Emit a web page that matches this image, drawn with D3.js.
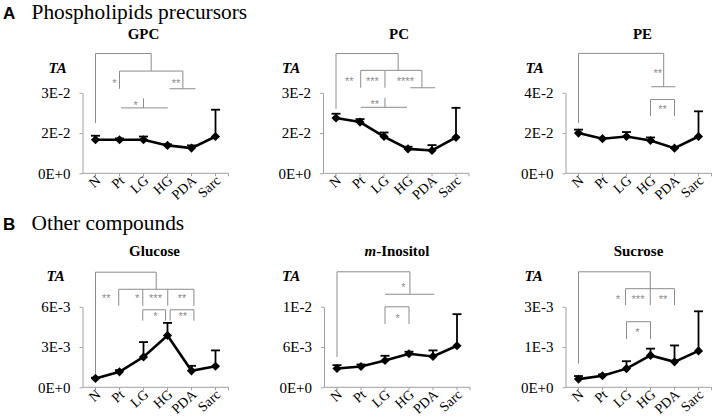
<!DOCTYPE html>
<html>
<head>
<meta charset="utf-8">
<script src="https://cdn.jsdelivr.net/npm/d3@7"></script>
<style>
  body { margin: 0; background: #fff; }
  svg text { font-family: 'Liberation Serif', 'Times New Roman', Tinos, 'DejaVu Serif', serif; }
  svg text.sans { font-family: 'Liberation Sans', Arial, Arimo, sans-serif; }
  .sig { fill: none; stroke: #8c8c8c; stroke-width: 1; }
  svg text.star { font-family: 'Liberation Sans', Arial, sans-serif; font-size: 11px; fill: #8c8c8c; }
</style>
</head>
<body>
<svg id="fig" width="713" height="417"></svg>
<script>
// groups on the x axis
const groups = ["N", "Pt", "LG", "HG", "PDA", "Sarc"];

// mean TA and top of the error bar
const gpcMean  = [0.0125, 0.0125, 0.0125, 0.0104, 0.0094, 0.0137];
const gpcUpper = [0.0140, 0.0130, 0.0137, 0.0108, 0.0104, 0.0237];
const pcMean   = [0.0206, 0.0191, 0.0137, 0.0091, 0.0085, 0.0134];
const pcUpper  = [0.0222, 0.0202, 0.0152, 0.0099, 0.0105, 0.0244];
const peMean   = [0.0200, 0.0172, 0.0183, 0.0163, 0.0125, 0.0183];
const peUpper  = [0.0217, 0.0176, 0.0205, 0.0178, 0.0128, 0.0308];
const gluMean  = [0.00066, 0.00115, 0.00226, 0.00386, 0.00123, 0.00157];
const gluUpper = [0.00072, 0.00128, 0.00337, 0.00480, 0.00160, 0.00275];
const inoMean  = [0.0028, 0.0031, 0.0040, 0.0050, 0.0046, 0.0062];
const inoUpper = [0.0033, 0.0034, 0.0047, 0.0053, 0.0055, 0.0109];
const sucMean  = [0.000255, 0.00036, 0.00058, 0.00099, 0.00079, 0.00113];
const sucUpper = [0.00035, 0.00040, 0.00081, 0.00120, 0.00130, 0.00236];

// y axis: max and tick labels (Excel rounds the middle tick)
const gpcTicks = ["0E+0", "2E-2", "3E-2"];
const pcTicks  = ["0E+0", "2E-2", "3E-2"];
const peTicks  = ["0E+0", "2E-2", "4E-2"];
const gluTicks = ["0E+0", "3E-3", "6E-3"];
const inoTicks = ["0E+0", "6E-3", "1E-2"];
const sucTicks = ["0E+0", "1E-3", "3E-3"];

// significance brackets: polylines of [group index, multiple of axis max]
const gpcBrackets = [
  [[0, 0.625], [0, 1.4875], [2.32, 1.4875], [2.32, 1.27]],
  [[1, 1.05], [1, 1.27], [3.64, 1.27], [3.64, 1.05]],
  [[3.08, 1.05], [4.17, 1.05]],
  [[1.07, 0.8125], [3.01, 0.8125]],
  [[2, 0.8125], [2, 0.93]]
];
const gpcStars = [[0.79, 1.15, "*"], [3.36, 1.15, "**"], [1.67, 0.88, "*"]];

const pcBrackets = [
  [[0, 0.8], [0, 1.4875], [2.59, 1.4875], [2.59, 1.279]],
  [[1.03, 1.0625], [1.03, 1.279], [3.58, 1.279], [3.58, 1.0625]],
  [[2.04, 1.279], [2.04, 1.0625]],
  [[3.1, 1.0625], [4.13, 1.0625]],
  [[1.03, 0.82], [2.96, 0.82]],
  [[2.04, 0.82], [2.04, 0.9375]]
];
const pcStars = [[0.55, 1.175, "**"], [1.52, 1.175, "***"], [2.89, 1.175, "****"], [1.62, 0.8875, "**"]];

const peBrackets = [
  [[0, 0.625], [0, 1.49], [3.55, 1.49], [3.55, 1.075]],
  [[3.03, 1.075], [4.03, 1.075]],
  [[3, 0.71], [3, 0.916], [4, 0.916], [4, 0.71]]
];
const peStars = [[3.3, 1.28, "**"], [3.5, 0.825, "**"]];

const gluBrackets = [
  [[0, 0.17], [0, 1.43], [2.53, 1.43], [2.53, 1.218]],
  [[0.97, 1.012], [0.97, 1.218], [4.1, 1.218], [4.1, 1.012]],
  [[1.97, 1.218], [1.97, 1.012]],
  [[3.01, 1.218], [3.01, 1.012]],
  [[1.97, 0.828], [1.97, 0.963], [2.92, 0.963], [2.92, 0.828]],
  [[3.11, 0.828], [3.11, 0.963], [4.1, 0.963], [4.1, 0.828]]
];
const gluStars = [[0.45, 1.144, "**"], [1.74, 1.144, "*"], [2.5, 1.144, "***"], [3.61, 1.144, "**"],
                  [2.5, 0.91, "*"], [3.64, 0.91, "**"]];

const inoBrackets = [
  [[0, 0.376], [0, 1.435], [3.04, 1.435], [3.04, 1.156]],
  [[2, 1.156], [4.06, 1.156]],
  [[2, 0.787], [2, 1.0], [3, 1.0], [3, 0.787]]
];
const inoStars = [[2.77, 1.27, "*"], [2.53, 0.89, "*"]];

const sucBrackets = [
  [[0, 0.295], [0, 1.435], [2.99, 1.435], [2.99, 1.02]],
  [[1.96, 1.02], [1.96, 1.225], [4, 1.225], [4, 1.02]],
  [[2, 0.6], [2, 0.815], [3, 0.815], [3, 0.6]]
];
const sucStars = [[1.64, 1.127, "*"], [2.48, 1.127, "***"], [3.52, 1.127, "**"], [2.45, 0.717, "*"]];

const panels = [
  {title: "GPC", mean: gpcMean, upper: gpcUpper, max: 0.03, ticks: gpcTicks, brackets: gpcBrackets, stars: gpcStars},
  {title: "PC", mean: pcMean, upper: pcUpper, max: 0.03, ticks: pcTicks, brackets: pcBrackets, stars: pcStars},
  {title: "PE", mean: peMean, upper: peUpper, max: 0.04, ticks: peTicks, brackets: peBrackets, stars: peStars},
  {title: "Glucose", mean: gluMean, upper: gluUpper, max: 0.006, ticks: gluTicks, brackets: gluBrackets, stars: gluStars},
  {title: "m-Inositol", mean: inoMean, upper: inoUpper, max: 0.012, ticks: inoTicks, brackets: inoBrackets, stars: inoStars},
  {title: "Sucrose", mean: sucMean, upper: sucUpper, max: 0.0025, ticks: sucTicks, brackets: sucBrackets, stars: sucStars}
];

// where each small chart sits: y-axis x, baseline y, label offsets
const layout = [
  {x: 82.5, y: 173.3, titleDx: -12, taDx: -34},
  {x: 323, y: 173.3, titleDx: 3, taDx: -41},
  {x: 565.5, y: 173.3, titleDx: 4, taDx: -40},
  {x: 82.5, y: 387.3, titleDx: -1, taDx: -36},
  {x: 324, y: 387.3, titleDx: 0, taDx: -42},
  {x: 565.5, y: 387.3, titleDx: 0, taDx: -41}
];

const svg = d3.select("#fig");
const axisH = 80.5, step = 24;
const axisColor = "#a0a0a0";

// section headings
function heading(letter, label, y) {
  svg.append("text").attr("class", "sans").attr("x", 3).attr("y", y)
    .style("font-weight", "bold").style("font-size", "17px").text(letter);
  svg.append("text").attr("x", 31.5).attr("y", y)
    .style("font-size", "21.4px").text(label);
}
heading("A", "Phospholipids precursors", 19.2);
heading("B", "Other compounds", 229.5);

panels.forEach(function (p, k) {
  let L = layout[k];
  let g = svg.append("g");

  let x = d3.scalePoint().domain(groups)
    .range([L.x + 13, L.x + 13 + step * (groups.length - 1)]);
  let xi = function (i) { return x(groups[0]) + i * step; };
  let y = d3.scaleLinear().domain([0, p.max]).range([L.y, L.y - axisH]);

  // y axis
  let yAxis = d3.axisLeft(y).tickValues([0, p.max / 2, p.max])
    .tickSize(3).tickSizeOuter(0)
    .tickFormat(function (d, i) { return p.ticks[i]; });
  let ya = g.append("g")
    .attr("transform", "translate(" + L.x + ",0)").call(yAxis);
  ya.attr("font-family", null).attr("font-size", null);
  ya.select(".domain").attr("stroke", axisColor);
  ya.selectAll(".tick line").attr("stroke", axisColor);
  ya.selectAll("text").attr("x", -12)
    .style("font-size", "15px").attr("fill", "#000");

  // x axis with ticks under the points and at the end
  let xEnd = L.x + step * groups.length + 2;
  g.append("line")
    .attr("x1", L.x).attr("x2", xEnd).attr("y1", L.y).attr("y2", L.y)
    .attr("stroke", axisColor);
  g.selectAll(".xt").data(groups.map(function (d) { return x(d); }).concat([xEnd]))
    .enter().append("line")
    .attr("x1", function (d) { return d; }).attr("x2", function (d) { return d; })
    .attr("y1", L.y).attr("y2", L.y + 3).attr("stroke", axisColor);
  g.selectAll(".xl").data(groups).enter().append("text")
    .attr("text-anchor", "end")
    .attr("transform", function (d) { return "translate(" + (x(d) + 6) + "," + (L.y + 8.5) + ") rotate(-42)"; })
    .style("font-size", "14px")
    .text(function (d) { return d; });

  // title and TA label
  let title = g.append("text").attr("x", (x(groups[0]) + x(groups[5])) / 2 + L.titleDx)
    .attr("y", k < 3 ? 38.5 : 256).attr("text-anchor", "middle")
    .style("font-weight", "bold").style("font-size", "15px");
  if (p.title.indexOf("m-") === 0) {
    title.append("tspan").style("font-style", "italic").text("m");
    title.append("tspan").text(p.title.slice(1));
  } else {
    title.text(p.title);
  }
  g.append("text").attr("x", L.x + L.taDx).attr("y", k < 3 ? 72.5 : 281)
    .style("font-weight", "bold").style("font-style", "italic").style("font-size", "15px")
    .text("TA");

  // significance brackets
  let bl = d3.line()
    .x(function (d) { return xi(d[0]); })
    .y(function (d) { return y(d[1] * p.max); });
  g.selectAll(".sig").data(p.brackets).enter().append("path")
    .attr("class", "sig").attr("d", bl);
  g.selectAll(".star").data(p.stars).enter().append("text")
    .attr("class", "star").attr("text-anchor", "middle")
    .attr("x", function (d) { return xi(d[0]); })
    .attr("y", function (d) { return y(d[1] * p.max) + 6.3; })
    .text(function (d) { return d[2]; });

  // error bars (upper only)
  let rows = groups.map(function (d, i) { return {g: d, m: p.mean[i], u: p.upper[i]}; });
  g.selectAll(".eb").data(rows).enter().append("line")
    .attr("x1", function (d) { return x(d.g); }).attr("x2", function (d) { return x(d.g); })
    .attr("y1", function (d) { return y(d.m); }).attr("y2", function (d) { return y(d.u); })
    .attr("stroke", "#000").attr("stroke-width", 1.8);
  g.selectAll(".cap").data(rows).enter().append("line")
    .attr("x1", function (d) { return x(d.g) - 4.5; }).attr("x2", function (d) { return x(d.g) + 4.5; })
    .attr("y1", function (d) { return y(d.u); }).attr("y2", function (d) { return y(d.u); })
    .attr("stroke", "#000").attr("stroke-width", 1.8);

  // mean line and diamond markers
  g.append("path").datum(rows)
    .attr("fill", "none").attr("stroke", "#000").attr("stroke-width", 2.6)
    .attr("d", d3.line().x(function (d) { return x(d.g); }).y(function (d) { return y(d.m); }));
  g.selectAll(".mk").data(rows).enter().append("path")
    .attr("d", d3.symbol(d3.symbolSquare, 42))
    .attr("transform", function (d) { return "translate(" + x(d.g) + "," + y(d.m) + ") rotate(45)"; })
    .attr("fill", "#000");
});
</script>
</body>
</html>
